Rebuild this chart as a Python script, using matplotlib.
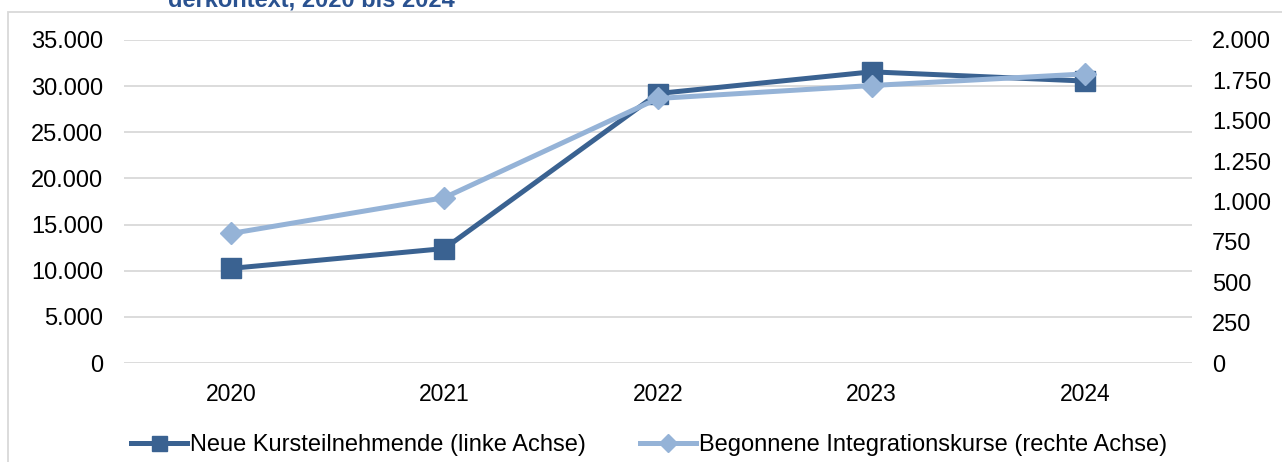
import matplotlib.pyplot as plt
from matplotlib.patches import Rectangle
from matplotlib.ticker import FuncFormatter

plt.rcParams['font.family'] = ['Liberation Sans', 'DejaVu Sans']

jahre = ['2020', '2021', '2022', '2023', '2024']
teilnehmende = [10250, 12400, 29200, 31550, 30550]   # linke Achse
kurse = [802, 1024, 1638, 1718, 1790]                 # rechte Achse

dunkel = '#3A6291'
hell = '#95B3D7'
grau = '#D9D9D9'

def tausender(v, pos):
    return f"{v:,.0f}".replace(',', '.')

fig = plt.figure(figsize=(12.82, 4.62), dpi=100)

# Rahmen um das Diagramm (nach rechts und unten abgeschnitten)
fig.patches.append(Rectangle((8 / 1282, -0.1), 1.2, 1 - 12 / 462 + 0.1,
                             transform=fig.transFigure, fill=False,
                             edgecolor=grau, linewidth=1.3))

# abgeschnittener Titel
fig.text(0.2426, 1 - 7 / 462, 'derkontext, 2020 bis 2024', fontsize=17,
         fontweight='bold', color='#2A5290', ha='center', va='baseline')

ax = fig.add_axes([124 / 1282, 1 - 363 / 462, (1192 - 124) / 1282, (363 - 40) / 462])
ax2 = ax.twinx()

x = range(len(jahre))
l1, = ax.plot(x, teilnehmende, color=dunkel, lw=3.6, marker='s', ms=14.4,
              label='Neue Kursteilnehmende (linke Achse)')
l2, = ax2.plot(x, kurse, color=hell, lw=3.6, marker='D', ms=11.7,
               label='Begonnene Integrationskurse (rechte Achse)')

ax.set_xlim(-0.5, 4.5)
ax.set_ylim(0, 35000)
ax.set_yticks(range(0, 35001, 5000))
ax2.set_ylim(0, 2000)
ax2.set_yticks(range(0, 2001, 250))
ax.yaxis.set_major_formatter(FuncFormatter(tausender))
ax2.yaxis.set_major_formatter(FuncFormatter(tausender))
ax.set_xticks(list(x))
ax.set_xticklabels(jahre)

ax.grid(axis='y', color=grau, lw=1.3)
ax.set_axisbelow(True)
for a in (ax, ax2):
    for s in a.spines.values():
        s.set_visible(False)
ax.tick_params(axis='x', length=0, pad=14.5, labelsize=16.5)
ax.tick_params(axis='y', length=0, pad=15, labelsize=17)
ax2.tick_params(axis='y', length=0, pad=14.5, labelsize=17)

fig.legend(handles=[l1, l2], loc='center', bbox_to_anchor=(0.506, 1 - 445 / 462),
           ncol=2, frameon=False, fontsize=17, handlelength=2.4,
           handletextpad=0.1, columnspacing=2.3, borderaxespad=0,
           markerscale=0.75)

fig.savefig('out.png', dpi=100)
